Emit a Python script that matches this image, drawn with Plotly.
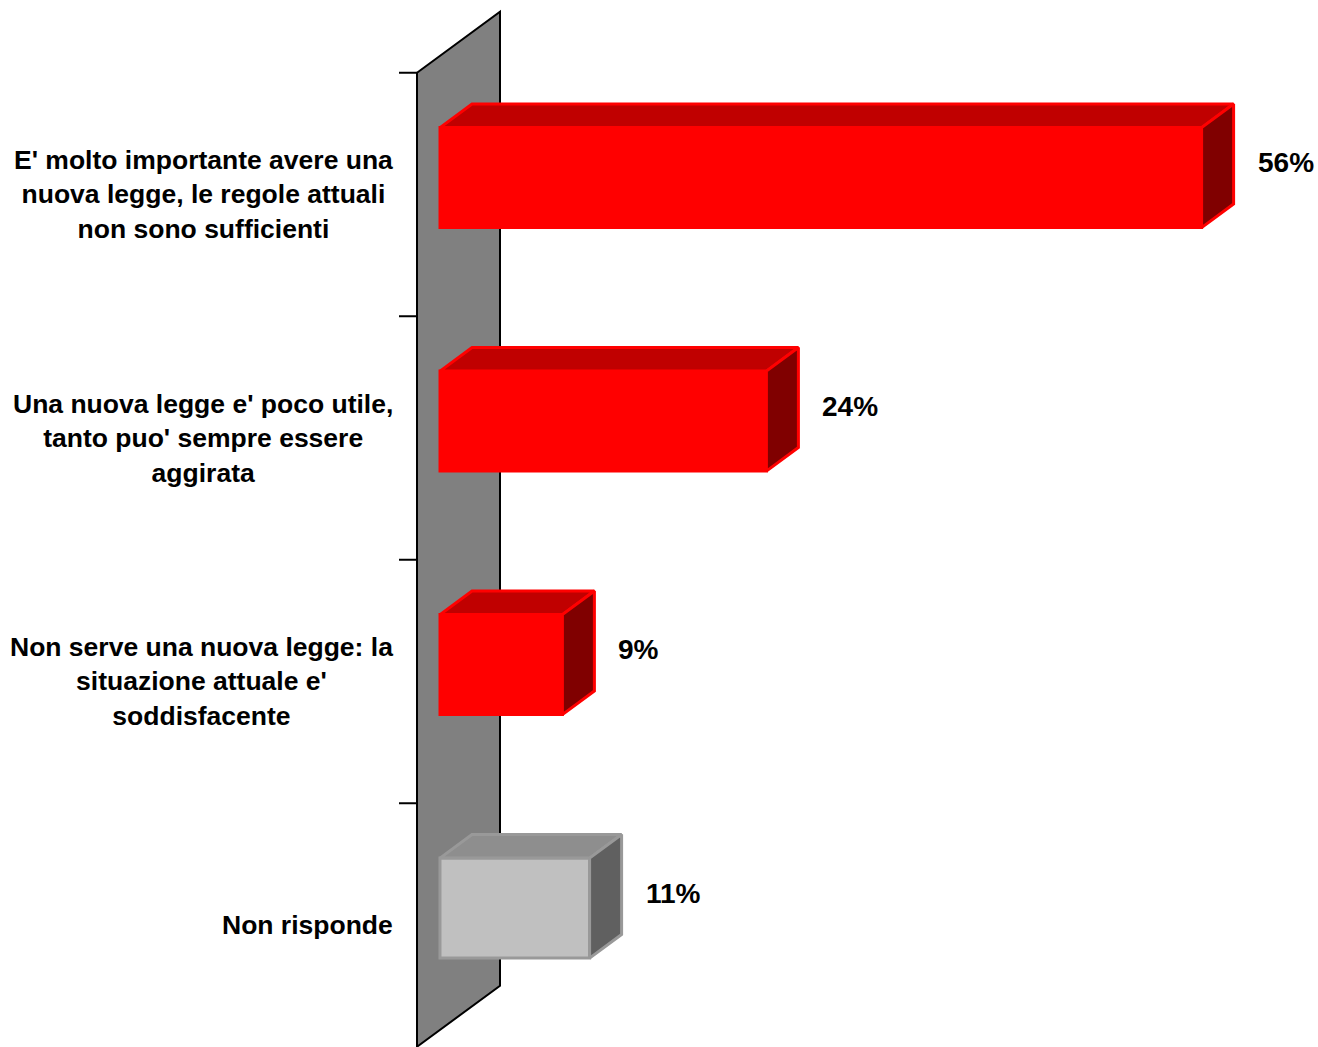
import plotly.graph_objects as go

# Survey answers (top to bottom) and their shares in percent
categories = [
    "E' molto importante avere una<br>nuova legge, le regole attuali<br>non sono sufficienti",
    "Una nuova legge e' poco utile,<br>tanto puo' sempre essere<br>aggirata",
    "Non serve una nuova legge: la<br>situazione attuale e'<br>soddisfacente",
    "Non risponde",
]
values = [56, 24, 9, 11]
value_labels = [f"{v}%" for v in values]

# Face colours: front, top, side, outline
red_faces = ("#FF0000", "#C00000", "#800000", "#FF0000")
grey_faces = ("#C0C0C0", "#8E8E8E", "#606060", "#999999")
bar_faces = [red_faces, red_faces, red_faces, grey_faces]

# Canvas and oblique projection settings (pixels)
W, H = 1318, 1047
PX_PER_PCT = 13.6      # horizontal scale of the value axis
BAND_PX = 243.5        # height of one category band
ORIGIN_X = 417         # value 0 on the front edge of the wall
ORIGIN_Y = 194.5       # centre of the first category band
DEPTH_DX, DEPTH_DY = 83, -61   # full depth of the wall, in pixels

# Depth vector expressed in axis units
ddx = DEPTH_DX / PX_PER_PCT
ddy = DEPTH_DY / BAND_PX        # y axis is reversed (index grows downward)

F0, F1 = 23 / 83, 55 / 83        # front / back depth of the bars
FM = (F0 + F1) / 2
BAR_H = 100 / BAND_PX            # bar thickness in category units
TICK_LEN = 18 / PX_PER_PCT

n = len(categories)

fig = go.Figure()

# Front faces of the bars
for i, (v, faces) in enumerate(zip(values, bar_faces)):
    fig.add_trace(go.Bar(
        x=[v], y=[i + F0 * ddy], base=[F0 * ddx], orientation="h",
        width=BAR_H,
        marker=dict(color=faces[0], line=dict(color=faces[3], width=3)),
        hoverinfo="skip", showlegend=False,
    ))

# Top and side faces of the bars
for i, (v, faces) in enumerate(zip(values, bar_faces)):
    top = i - BAR_H / 2
    bot = i + BAR_H / 2
    # top face
    xs = [F0 * ddx, v + F0 * ddx, v + F1 * ddx, F1 * ddx, F0 * ddx]
    ys = [top + F0 * ddy, top + F0 * ddy, top + F1 * ddy, top + F1 * ddy, top + F0 * ddy]
    fig.add_trace(go.Scatter(
        x=xs, y=ys, mode="lines", fill="toself", fillcolor=faces[1],
        line=dict(color=faces[3], width=3), hoverinfo="skip", showlegend=False,
    ))
    # right side face
    xs = [v + F0 * ddx, v + F1 * ddx, v + F1 * ddx, v + F0 * ddx, v + F0 * ddx]
    ys = [top + F0 * ddy, top + F1 * ddy, bot + F1 * ddy, bot + F0 * ddy, top + F0 * ddy]
    fig.add_trace(go.Scatter(
        x=xs, y=ys, mode="lines", fill="toself", fillcolor=faces[2],
        line=dict(color=faces[3], width=3), hoverinfo="skip", showlegend=False,
    ))

# Grey side wall behind the bars
y_top, y_bot = -0.5, n - 0.5
wall_path = (f"M 0,{y_top} L {ddx},{y_top + ddy} L {ddx},{y_bot + ddy} "
             f"L 0,{y_bot} Z")
shapes = [dict(type="path", path=wall_path, xref="x", yref="y",
               fillcolor="#808080", line=dict(color="black", width=2),
               layer="below")]

# Tick marks between categories
for k in range(n):
    yk = k - 0.5
    shapes.append(dict(type="line", xref="x", yref="y",
                       x0=-TICK_LEN, x1=0, y0=yk, y1=yk,
                       line=dict(color="black", width=2), layer="below"))

cat_font = dict(family="Liberation Sans, Arial, sans-serif", size=26.5,
                color="black", weight="bold")
val_font = dict(family="Liberation Sans, Arial, sans-serif", size=28,
                color="black", weight="bold")

annotations = []
for i, cat in enumerate(categories):
    annotations.append(dict(
        x=0, y=i, xref="x", yref="y", text=cat, showarrow=False,
        xanchor="right", yanchor="middle", align="center", xshift=-22,
        font=cat_font,
    ))
for i, (v, lab) in enumerate(zip(values, value_labels)):
    annotations.append(dict(
        x=v + FM * ddx, y=i + FM * ddy, xref="x", yref="y", text=lab,
        showarrow=False, xanchor="left", yanchor="middle", xshift=38,
        yshift=3, font=val_font,
    ))

fig.update_layout(
    width=W, height=H,
    margin=dict(l=0, r=0, t=0, b=0),
    paper_bgcolor="white", plot_bgcolor="white",
    shapes=shapes, annotations=annotations,
    barmode="overlay", showlegend=False,
    xaxis=dict(range=[-ORIGIN_X / PX_PER_PCT, (W - ORIGIN_X) / PX_PER_PCT],
               visible=False, fixedrange=True),
    yaxis=dict(range=[(H - ORIGIN_Y) / BAND_PX, -ORIGIN_Y / BAND_PX],
               visible=False, fixedrange=True),
)

fig.write_html("out.html")
